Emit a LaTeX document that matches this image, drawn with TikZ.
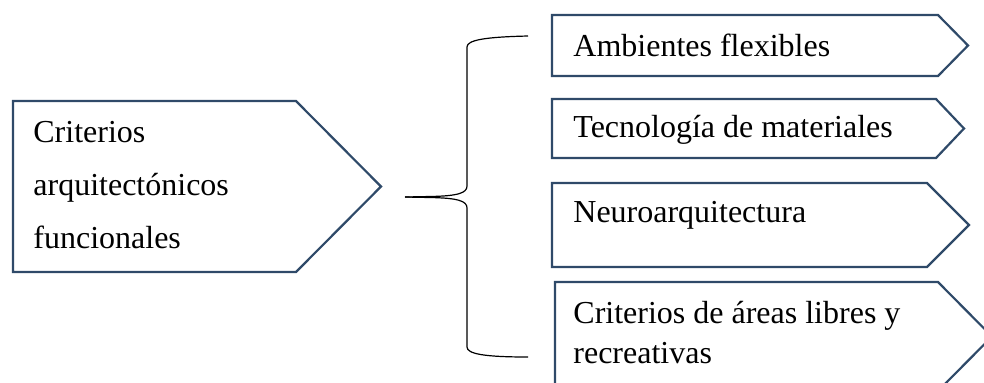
\documentclass[tikz,border=0pt]{standalone}
\usepackage{fontspec}
\setmainfont{Liberation Serif}
\usepackage{xcolor,tikz}
\usetikzlibrary{calc}
\tikzset{>=stealth}
\definecolor{boxblue}{HTML}{2F4A69}

\begin{document}
\begin{tikzpicture}[x=0.5pt,y=-0.5pt,
  boxline/.style={draw=boxblue,line width=1.1pt},
  boxtext/.style={anchor=base west,inner sep=0pt,align=left,font=\fontsize{16}{20}\selectfont},
  bracket/.style={draw=black,line width=0.6pt}]
\clip (0,0) rectangle (984,382);
% pentagon outlines: left x / top y / right x / bottom y / tip x
\foreach \xa/\ya/\xb/\yb/\tip in {13/101/296/272/381, 552/15/938/76/968, 552/99/936/158/964, 552/183/927/267/969, 555/282/938/391/992}
  \draw[boxline] (\xa,\ya) -- (\xb,\ya) -- (\tip,{(\ya+\yb)/2}) -- (\xb,\yb) -- (\xa,\yb) -- cycle;
% texts (base = last line)
\node[boxtext,font=\fontsize{16}{26.4}\selectfont] (crit) at (33,248.3) {Criterios\\arquitectónicos\\funcionales};
\node[boxtext] (amb) at (573,56) {Ambientes flexibles};
\node[boxtext] (tec) at (573,137) {Tecnología de materiales};
\node[boxtext] (neuro) at (573,222) {Neuroarquitectura};
\node[boxtext] (areas) at (573,363) {Criterios de áreas libres y\\recreativas};
% brace
\coordinate (brmid) at (405,197);
\coordinate (brtop) at (528,36);
\coordinate (brbot) at (528,357);
\draw[bracket] (brmid) -- (430,196.5) .. controls (458,196) and (467,193) .. (467,186) -- (467,47) .. controls (467,40) and (485,37) .. (brtop);
\draw[bracket] (brmid) -- (430,197.5) .. controls (458,198) and (467,201) .. (467,208) -- (467,347) .. controls (467,354) and (485,357) .. (brbot);
\end{tikzpicture}
\end{document}
